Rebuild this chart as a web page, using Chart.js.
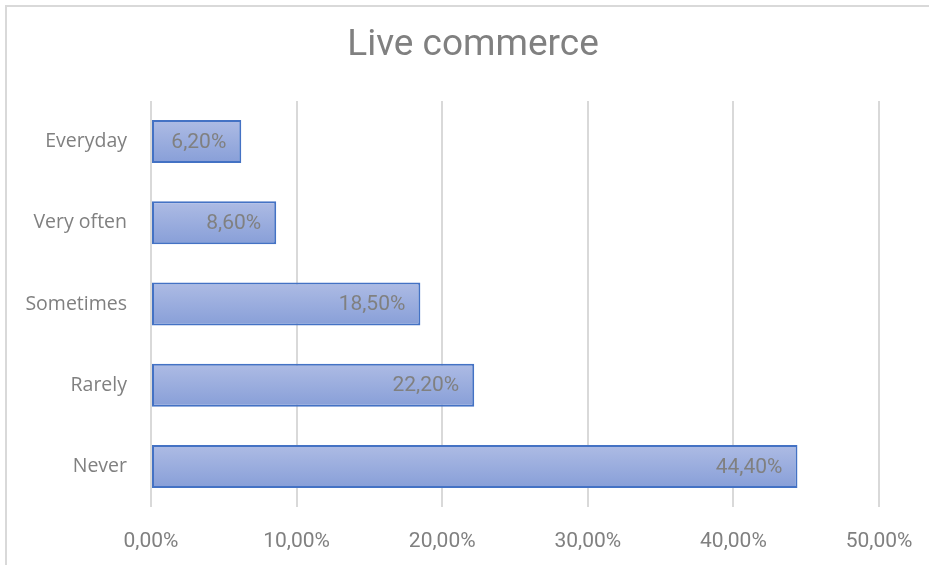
<!DOCTYPE html>
<html>
<head>
<meta charset="utf-8">
<script src="https://cdn.jsdelivr.net/npm/chart.js@4/dist/chart.umd.min.js"></script>
<style>
  html, body { margin: 0; padding: 0; background: #ffffff; }
  #wrap { width: 929px; height: 565px; position: relative; }
</style>
</head>
<body>
<div id="wrap"><canvas id="chart" width="929" height="565"></canvas></div>
<script>
// Survey answers: how often respondents buy through live commerce
const categories = ['Everyday', 'Very often', 'Sometimes', 'Rarely', 'Never'];
const shares = [6.2, 8.6, 18.5, 22.2, 44.4];
const tickValues = [0, 10, 20, 30, 40, 50];
const chartTitle = 'Live commerce';

const TEXT = '#808080';
const FONT = "'Roboto', sans-serif";
const LABEL_FONT = "'Open Sans', 'Roboto', sans-serif";

const pct = v => v.toFixed(2).replace('.', ',') + '%';

// White page with the light frame along the top and left edges, plus the title
const framePlugin = {
  id: 'frame',
  beforeDraw(chart) {
    const c = chart.ctx;
    c.save();
    c.fillStyle = '#ffffff';
    c.fillRect(0, 0, chart.width, chart.height);
    c.strokeStyle = '#d9d9d9';
    c.lineWidth = 2;
    c.beginPath();
    c.moveTo(6, chart.height);
    c.lineTo(6, 6);
    c.lineTo(chart.width, 6);
    c.stroke();
    c.fillStyle = TEXT;
    c.font = "37px " + FONT;
    c.textAlign = 'center';
    c.textBaseline = 'middle';
    c.fillText(chartTitle, 473, 46);
    c.restore();
  }
};

// Value labels, right-aligned inside the end of each bar
const valueLabels = {
  id: 'valueLabels',
  afterDatasetsDraw(chart) {
    const c = chart.ctx;
    const meta = chart.getDatasetMeta(0);
    c.save();
    c.fillStyle = TEXT;
    c.font = "21px " + FONT;
    c.textAlign = 'right';
    c.textBaseline = 'middle';
    meta.data.forEach((bar, i) => {
      c.fillText(pct(shares[i]), bar.x - 15, bar.y + 1);
    });
    c.restore();
  }
};

new Chart(document.getElementById('chart'), {
  type: 'bar',
  data: {
    labels: categories,
    datasets: [{
      data: shares,
      backgroundColor(ctx) {
        const chart = ctx.chart;
        const y = chart.scales && chart.scales.y;
        if (!chart.chartArea || !y) return '#99acdd';
        const c = y.getPixelForValue(ctx.dataIndex);
        const g = chart.ctx.createLinearGradient(0, c - 21, 0, c + 21);
        g.addColorStop(0, '#adbbe4');
        g.addColorStop(1, '#889fd8');
        return g;
      },
      borderColor: '#4472c4',
      borderWidth: 2,
      borderSkipped: false,
      categoryPercentage: 1,
      barPercentage: 0.53
    }]
  },
  options: {
    indexAxis: 'y',
    responsive: false,
    animation: false,
    devicePixelRatio: 1,
    layout: { padding: { top: 101, right: 50, bottom: 0, left: 0 } },
    plugins: {
      legend: { display: false },
      title: { display: false },
      tooltip: { enabled: false }
    },
    scales: {
      x: {
        min: 0,
        max: 50,
        afterBuildTicks(scale) {
          scale.ticks = tickValues.map(v => ({ value: v }));
        },
        afterFit(scale) {
          scale.height = 58;
          scale.paddingLeft = 0;
          scale.paddingRight = 0;
        },
        grid: { color: '#d9d9d9', lineWidth: 2, drawTicks: false },
        border: { display: false },
        ticks: {
          color: TEXT,
          font: { family: FONT, size: 21 },
          padding: 22,
          callback: v => pct(v)
        }
      },
      y: {
        afterFit(scale) {
          scale.width = 151;
          scale.paddingTop = 0;
          scale.paddingBottom = 0;
        },
        grid: { display: false, drawTicks: false },
        border: { display: false },
        ticks: {
          color: TEXT,
          font: { family: LABEL_FONT, size: 19.5 },
          padding: 24
        }
      }
    }
  },
  plugins: [framePlugin, valueLabels]
});
</script>
</body>
</html>
